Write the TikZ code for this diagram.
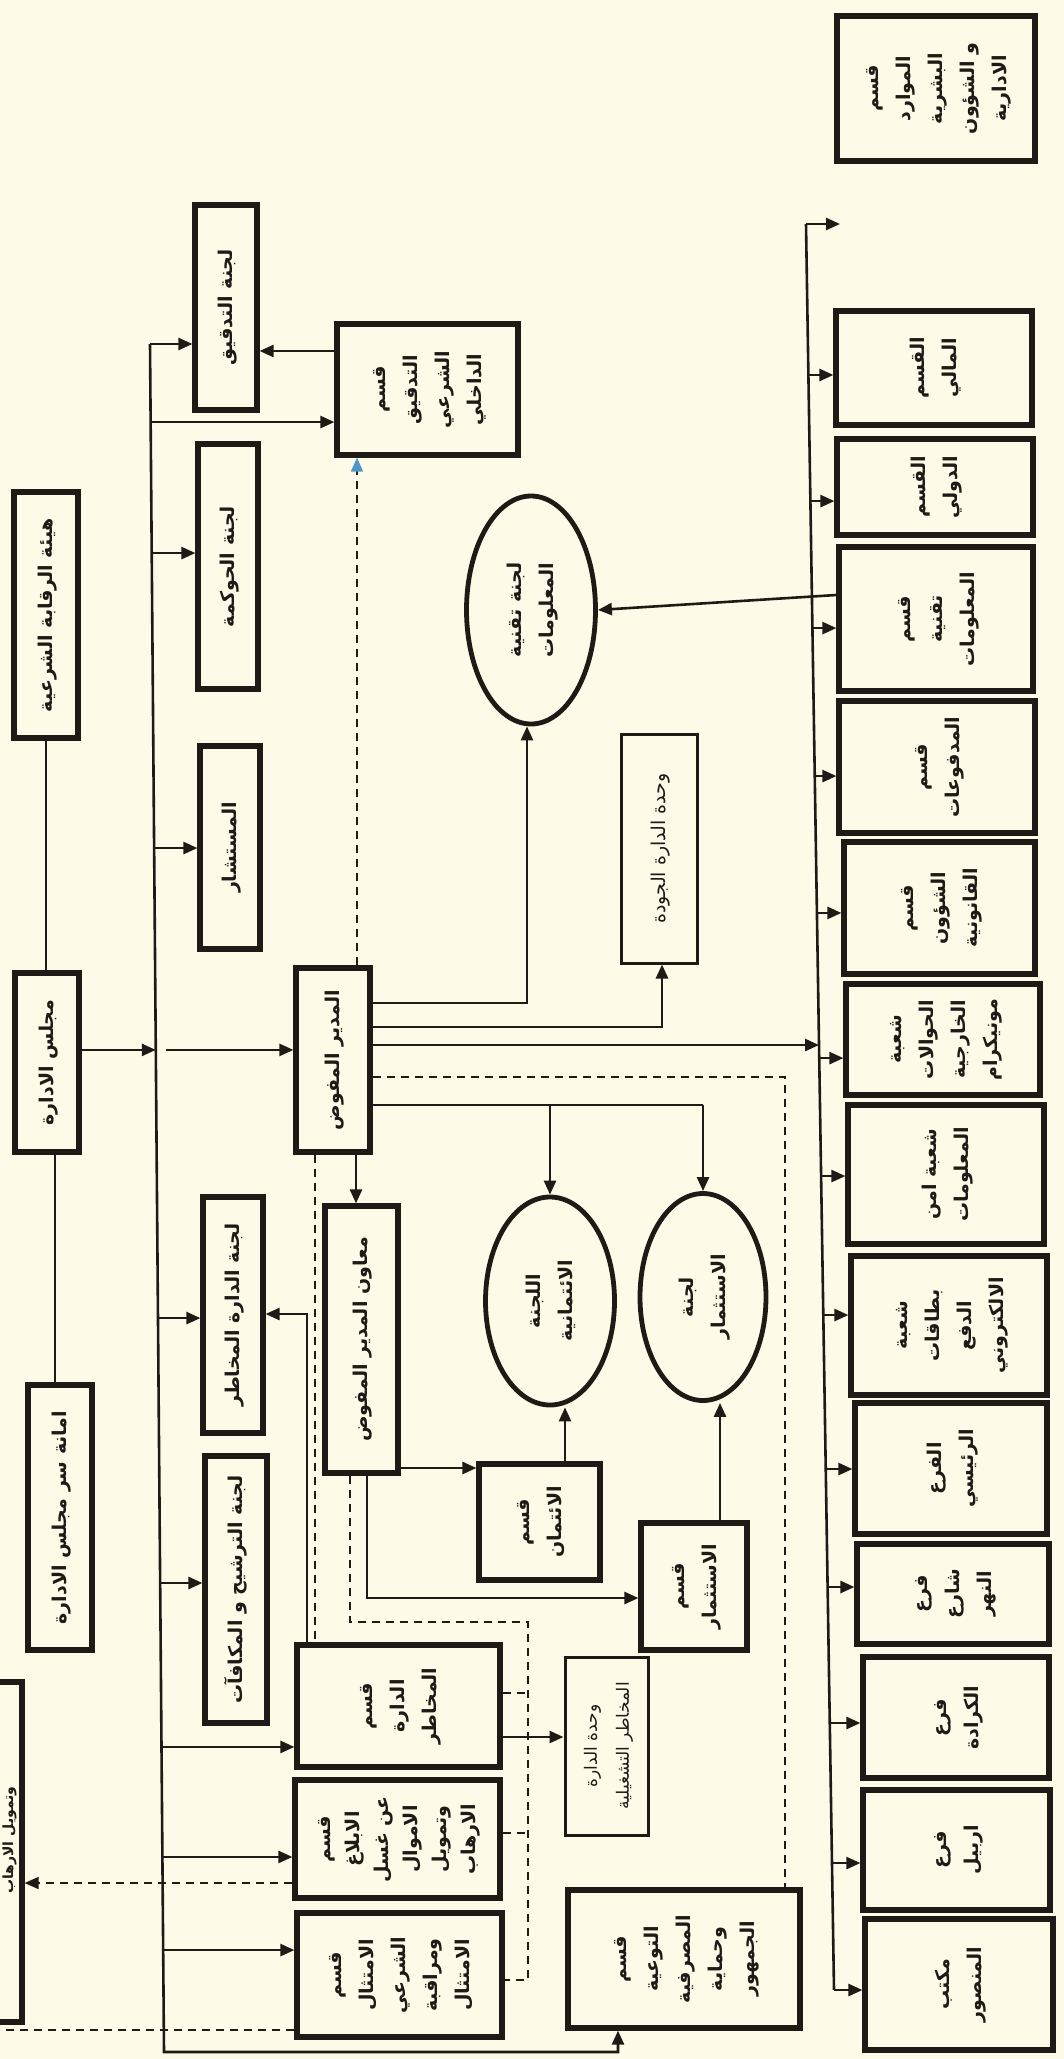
\documentclass[tikz,border=0pt]{standalone}
\usepackage{fontspec}
\usepackage{graphicx}
\usetikzlibrary{shapes.geometric,arrows.meta,calc}
\TeXXeTstate=1
\newfontfamily\arabicfont[Script=Arabic]{DejaVu Sans}
\definecolor{bgc}{RGB}{253,251,231}
\definecolor{ink}{RGB}{30,26,22}
\definecolor{tipblue}{RGB}{80,150,205}
\newcommand\rt[1]{\beginR#1\endR}
\newcommand\vt[1]{\rotatebox{90}{\begin{tabular}{@{}c@{}}#1\end{tabular}}}
\newcommand\bx[7][]{\node[boxst,#1,minimum width={(#4-#2)*0.5pt},minimum height={(#5-#3)*0.5pt}] (#6) at ({(#2+#4)/2},{(#3+#5)/2}) {\vt{#7}};}
\newcommand\brl[3]{\coordinate (#1) at ($(B1t)!#2!(B1b)$); \draw[arr] (#1) -- (#1 -| #3.west);}
\newcommand\brr[3]{\coordinate (#1) at ($(B2t)!#2!(B2b)$); \draw[arr] (#1) -- (#1 -| #3.west);}
\tikzset{
  boxst/.style={draw=ink,line width=2.6pt,rectangle,inner sep=0pt,text=ink,
    font=\arabicfont\bfseries\fontsize{9.5}{16}\selectfont},
  thinbox/.style={line width=1.5pt},
  ellst/.style={draw=ink,line width=2.4pt,ellipse,inner sep=0pt,text=ink,
    font=\arabicfont\bfseries\fontsize{9.5}{16}\selectfont},
  ln/.style={draw=ink,line width=1.3pt},
  arr/.style={draw=ink,line width=1.3pt,-{Triangle[length=7pt,width=6pt]}},
  dsh/.style={draw=ink,line width=0.8pt,dash pattern=on 4pt off 3pt},
}
\begin{document}
\begin{tikzpicture}[x=0.5pt,y=-0.5pt]
\clip (0,0) rectangle (1064,2059);
\fill[bgc] (0,0) rectangle (1064,2059);

% ---------- left column ----------
\bx{14}{492}{78}{738}{heia}{\rt{هيئة الرقابة الشرعية}}
\bx{15}{973}{79}{1152}{majlis}{\rt{مجلس الادارة}}
\bx{28}{1385}{92}{1650}{amana}{\rt{امانة سر مجلس الادارة}}
\node[boxst,minimum width=41pt,minimum height=170pt] (cutbox) at (-19,1852) {};
\node[text=ink,inner sep=0pt,font=\arabicfont\bfseries\fontsize{7}{10}\selectfont] (cuttxt) at (9,1840) {\vt{\rt{وتمويل الارهاب}}};

% ---------- committees ----------
\bx{195}{205}{257}{410}{audit}{\rt{لجنة التدقيق}}
\bx{198}{444}{258}{689}{gov}{\rt{لجنة الحوكمة}}
\bx{200}{746}{260}{949}{advisor}{\rt{المستشار}}
\bx{203}{1197}{263}{1433}{rmc}{\rt{لجنة الدارة المخاطر}}
\bx{205}{1456}{267}{1723}{nom}{\rt{لجنة الترشيح و المكافآت}}

% ---------- middle ----------
\bx{337}{324}{518}{455}{ia}{\rt{قسم}\\\rt{التدقيق}\\\rt{الشرعي}\\\rt{الداخلي}}
\bx{296}{968}{370}{1152}{ceo}{\rt{المدير المفوض}}
\bx{325}{1206}{398}{1473}{dep}{\rt{معاون المدير المفوض}}
\bx{297}{1645}{500}{1767}{rmd}{\rt{قسم}\\\rt{الدارة}\\\rt{المخاطر}}
\bx[font=\arabicfont\bfseries\fontsize{9.5}{14.5}\selectfont]{295}{1780}{500}{1898}{aml}{\rt{قسم}\\\rt{الابلاغ}\\\rt{عن غسل}\\\rt{الاموال}\\\rt{وتمويل}\\\rt{الارهاب}}
\bx{297}{1913}{502}{2037}{comp}{\rt{قسم}\\\rt{الامتثال}\\\rt{الشرعي}\\\rt{ومراقبة}\\\rt{الامتثال}}
\bx[thinbox,font=\arabicfont\fontsize{8.5}{16}\selectfont]{565}{1657}{648}{1835}{oru}{\rt{وحدة الدارة}\\\rt{المخاطر التشغيلية}}
\bx{568}{1890}{800}{2028}{aware}{\rt{قسم}\\\rt{التوعية}\\\rt{المصرفية}\\\rt{وحماية}\\\rt{الجمهور}}
\bx[thinbox,font=\arabicfont\fontsize{9.5}{16}\selectfont]{621}{734}{697}{963}{qual}{\rt{وحدة الدارة الجودة}}
\bx{479}{1464}{600}{1580}{crd}{\rt{قسم}\\\rt{الائتمان}}
\bx{641}{1523}{747}{1650}{ind}{\rt{قسم}\\\rt{الاستثمار}}

\node[ellst,minimum width=64.5pt,minimum height=114pt] (itc) at (531,610) {\vt{\rt{لجنة تقنية}\\\rt{المعلومات}}};
\node[ellst,minimum width=64.5pt,minimum height=104pt] (crc) at (550,1301) {\vt{\rt{اللجنة}\\\rt{الائتمانية}}};
\node[ellst,minimum width=63pt,minimum height=103.5pt] (inc) at (703,1297) {\vt{\rt{لجنة}\\\rt{الاستثمار}}};

% ---------- right column ----------
\bx{837}{16}{1035}{161}{hr}{\rt{قسم}\\\rt{الموارد}\\\rt{البشرية}\\\rt{و الشؤون}\\\rt{الادارية}}
\bx{836}{311}{1032}{425}{fin}{\rt{القسم}\\\rt{المالي}}
\bx{837}{439}{1033}{535}{intl}{\rt{القسم}\\\rt{الدولي}}
\bx{839}{547}{1033}{691}{itd}{\rt{قسم}\\\rt{تقنية}\\\rt{المعلومات}}
\bx{839}{701}{1035}{833}{pay}{\rt{قسم}\\\rt{المدفوعات}}
\bx{844}{842}{1035}{974}{legal}{\rt{قسم}\\\rt{الشؤون}\\\rt{القانونية}}
\bx{846}{984}{1040}{1095}{remit}{\rt{شعبة}\\\rt{الحوالات}\\\rt{الخارجية}\\\rt{مونيكرام}}
\bx{848}{1105}{1044}{1244}{infosec}{\rt{شعبة امن}\\\rt{المعلومات}}
\bx{851}{1256}{1047}{1395}{cards}{\rt{شعبة}\\\rt{بطاقات}\\\rt{الدفع}\\\rt{الالكتروني}}
\bx{855}{1403}{1047}{1534}{mainbr}{\rt{الفرع}\\\rt{الرئيسي}}
\bx{857}{1544}{1049}{1644}{nahr}{\rt{فرع}\\\rt{شارع}\\\rt{النهر}}
\bx{863}{1657}{1049}{1778}{karrada}{\rt{فرع}\\\rt{الكرادة}}
\bx{863}{1790}{1050}{1910}{erbil}{\rt{فرع}\\\rt{اربيل}}
\bx{865}{1919}{1053}{2050}{mansour}{\rt{مكتب}\\\rt{المنصور}}

% ---------- board lines ----------
\draw[ln] (heia.south) -- (heia.south |- majlis.north);
\draw[ln] ([xshift=4pt]majlis.south) -- ([xshift=4pt]majlis.south |- amana.north);

% ---------- bus 1 ----------
\coordinate (B1t) at (150,344);
\coordinate (B1b) at (164,2052);
\coordinate (awin) at (618,2052);
\draw[arr] (B1t) -- (B1b) -- (awin) -- (awin |- aware.south);
\draw[arr] (B1t) -- (B1t -| audit.west);
\brl{p1}{0.0457}{ia}
\brl{p2}{0.1224}{gov}
\brl{p3}{0.2951}{advisor}
\brl{p6}{0.5703}{rmc}
\brl{p7}{0.7254}{nom}
\brl{p8}{0.8214}{rmd}
\brl{p9}{0.8858}{aml}
\brl{p10}{0.9403}{comp}
\coordinate (p5) at ($(B1t)!0.4133!(B1b)$);
\draw[arr] (majlis.east |- p5) -- (p5);
\draw[arr] ([xshift=5pt]p5) -- (p5 -| ceo.west);

% ---------- bus 2 ----------
\coordinate (B2t) at (806,224);
\coordinate (B2b) at (834,1990);
\coordinate (B2e) at (840,224);
\draw[ln] (B2t) -- (B2b);
\draw[arr] (B2t) -- (B2e);
\draw[arr] (B2b) -- (B2b -| mansour.west);
\brr{q1}{0.0855}{fin}
\brr{q2}{0.1569}{intl}
\brr{q3}{0.2288}{itd}
\brr{q4}{0.3126}{pay}
\brr{q5}{0.3901}{legal}
\brr{q7}{0.4723}{remit}
\brr{q8}{0.5391}{infosec}
\brr{q9}{0.6178}{cards}
\brr{q10}{0.7050}{mainbr}
\brr{q11}{0.7718}{nahr}
\brr{q12}{0.8488}{karrada}
\brr{q13}{0.9281}{erbil}
\coordinate (q6) at ($(B2t)!0.4649!(B2b)$);
\draw[arr] (ceo.east |- q6) -- (q6);

% ---------- from CEO ----------
\coordinate (c1) at (527,1003);
\draw[arr] (ceo.east |- c1) -- (c1) -- (c1 |- itc.south);
\coordinate (c2) at (662,1027);
\draw[arr] (ceo.east |- c2) -- (c2) -- (c2 |- qual.south);
\coordinate (c4) at (785,1077);
\draw[dsh] (ceo.east |- c4) -- (c4) -- (c4 |- aware.north);
\coordinate (c5) at (703,1105);
\draw[ln] (ceo.east |- c5) -- (c5);
\draw[arr] (c5 -| crc.north) -- (crc.north);
\draw[arr] (c5) -- (inc.north);
\draw[arr] ([xshift=11.5pt]ceo.south) -- ([xshift=11.5pt]ceo.south |- dep.north);
\draw[dsh] ([xshift=-9pt]ceo.south) -- ([xshift=-9pt]ceo.south |- rmd.north);
\draw[dsh,-{Triangle[length=7pt,width=6pt,color=tipblue]}] ([xshift=12pt]ceo.north) -- ([xshift=12pt]ceo.north |- ia.south);

% ---------- audit ----------
\coordinate (a1) at (0,351);
\draw[arr] (ia.west |- a1) -- (audit.east |- a1);
\coordinate (a2) at (0,595);
\draw[arr] (itd.west |- a2) -- (itc.east);

% ---------- from deputy ----------
\coordinate (d1) at (0,1468);
\draw[arr] (dep.east |- d1) -- (crd.west |- d1);
\coordinate (d2) at (367,1598);
\draw[arr] (d2 |- dep.south) -- (d2) -- (d2 -| ind.west);
\coordinate (d3) at (350,1622);
\coordinate (d4) at (528,1622);
\coordinate (d5) at (528,1980);
\draw[dsh] (d3 |- dep.south) -- (d3) -- (d4) -- (d5) -- (d5 -| comp.east);
\coordinate (s1) at (528,1693);
\coordinate (s2) at (528,1833);
\draw[dsh] (rmd.east |- s1) -- (s1);
\draw[dsh] (aml.east |- s2) -- (s2);

% ---------- committees inputs ----------
\coordinate (e1) at (565,0);
\draw[arr] (e1 |- crd.north) -- (e1 |- crc.south);
\coordinate (e2) at (720,0);
\draw[arr] (e2 |- ind.north) -- (e2 |- inc.south);

% ---------- risk ----------
\coordinate (r1) at (307,1314);
\draw[arr] (r1 |- rmd.north) -- (r1) -- (r1 -| rmc.east);
\coordinate (r2) at (0,1737);
\draw[arr] (rmd.east |- r2) -- (oru.west |- r2);
\coordinate (r3) at (0,1883);
\draw[dsh,-{Triangle[length=7pt,width=6pt]}] (aml.west |- r3) -- (cutbox.east |- r3);
\coordinate (r4) at (-10,2030);
\draw[dsh] (comp.west |- r4) -- (r4);
\end{tikzpicture}
\end{document}
